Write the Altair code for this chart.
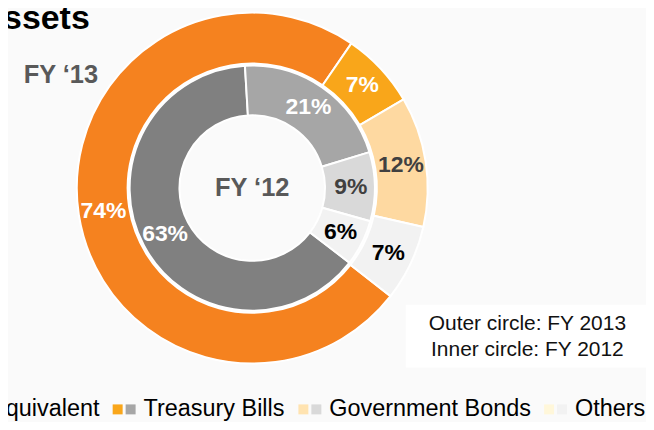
import math
import altair as alt
import pandas as pd

# ---------------- data ----------------
categories = ["Cash & Cash Equivalent", "Treasury Bills", "Government Bonds", "Others"]
fy13_values = [74, 7, 12, 7]          # outer circle
fy12_values = [63, 21, 9, 6]          # inner circle
fy13_labels = ["74%", "7%", "12%", "7%"]
fy12_labels = ["63%", "21%", "9%", "6%"]
title_text = "Assets"
outer_name = "FY \u201813"
inner_name = "FY \u201812"
note_lines = ["Outer circle: FY 2013", "Inner circle: FY 2012"]

# ---------------- styles ----------------
FONT = "Liberation Sans, Arial, Helvetica, sans-serif"
BG = "#fafafa"
outer_colors = ["#F5821F", "#F9A61A", "#FED9A1", "#F2F2F2"]
inner_colors = ["#808080", "#A6A6A6", "#D9D9D9", "#F2F2F2"]
outer_text_colors = ["#FFFFFF", "#FFFFFF", "#404040", "#000000"]
inner_text_colors = ["#FFFFFF", "#FFFFFF", "#404040", "#000000"]
legend_outer_colors = ["#F5821F", "#F9A61A", "#FFE3B0", "#FFF7DA"]
legend_inner_colors = ["#808080", "#A6A6A6", "#D9D9D9", "#F2F2F2"]

W, H = 640, 414
CX, CY = 245, 180
TWO_PI = 2 * math.pi
outer_start = math.radians(128)
inner_start = math.radians(127.5)

ring_df_outer = pd.DataFrame({"category": categories, "value": fy13_values,
                              "label": fy13_labels, "idx": range(4)})
ring_df_inner = pd.DataFrame({"category": categories, "value": fy12_values,
                              "label": fy12_labels, "idx": range(4)})


def ring(df, start, r_in, r_out, r_lab, fills, tcolors):
    base = alt.Chart(df).encode(
        theta=alt.Theta("value:Q", stack=True,
                        scale=alt.Scale(range=[start, start + TWO_PI])),
        order=alt.Order("idx:Q"),
        x=alt.value(CX), y=alt.value(CY),
    )
    arcs = base.mark_arc(innerRadius=r_in, outerRadius=r_out,
                         stroke="white", strokeWidth=2).encode(
        fill=alt.Fill("category:N", scale=alt.Scale(domain=categories, range=fills),
                      legend=None)
    )
    labels = base.mark_text(radius=r_lab, font=FONT, fontSize=23,
                            fontWeight="bold").encode(
        text="label:N",
        color=alt.Color("category:N",
                        scale=alt.Scale(domain=categories, range=tcolors),
                        legend=None),
    )
    return alt.layer(arcs, labels)


outer = ring(ring_df_outer, outer_start, 125, 176, 151, outer_colors, outer_text_colors)
inner = ring(ring_df_inner, inner_start, 73, 123, 99, inner_colors, inner_text_colors)

# ---------------- legend layout (computed from Arial widths) ----------------
AW = {"T": 611, "r": 333, "e": 556, "a": 556, "s": 500, "u": 556, "y": 500,
      " ": 278, "B": 667, "i": 222, "l": 222, "G": 778, "o": 556, "v": 500,
      "n": 556, "m": 833, "t": 278, "d": 556, "O": 778, "h": 556, "C": 722,
      "&": 667, "E": 667, "q": 556}
LEG_FS = 23.5


def tw(s, fs):
    return sum(AW.get(c, 556) for c in s) / 1000 * fs


SW, SGAP, TOFF, IGAP = 10, 3, 31, 13
starts = [0.0] * 4
starts[1] = 105
for i in range(1, 3):
    starts[i + 1] = starts[i] + TOFF + tw(categories[i], LEG_FS) + IGAP
starts[0] = starts[1] - (TOFF + tw(categories[0], LEG_FS) + IGAP)

sw_rows = []
for i, c in enumerate(categories):
    sw_rows.append({"key": c + " (FY13)", "x": starts[i], "x2": starts[i] + SW})
    sw_rows.append({"key": c + " (FY12)", "x": starts[i] + SW + SGAP,
                    "x2": starts[i] + 2 * SW + SGAP})
sw_df = pd.DataFrame(sw_rows)
sw_domain = [r["key"] for r in sw_rows]
sw_range = []
for i in range(4):
    sw_range += [legend_outer_colors[i], legend_inner_colors[i]]

leg_swatch = alt.Chart(sw_df).mark_rect().encode(
    x=alt.X("x:Q", scale=None, axis=None),
    x2="x2:Q",
    y=alt.value(397), y2=alt.value(407),
    fill=alt.Fill("key:N", scale=alt.Scale(domain=sw_domain, range=sw_range), legend=None),
)
lt_df = pd.DataFrame({"category": categories, "tx": [s + TOFF for s in starts]})
leg_text = alt.Chart(lt_df).mark_text(align="left", baseline="alphabetic", font=FONT,
                                      fontSize=LEG_FS, color="#000000").encode(
    x=alt.X("tx:Q", scale=None, axis=None), y=alt.value(409), text="category:N")

# ---------------- annotations ----------------
one = pd.DataFrame({"t": [title_text]})
title = alt.Chart(one).mark_text(align="right", baseline="alphabetic", font=FONT,
                                 fontSize=34, fontWeight="bold", color="#000000").encode(
    x=alt.value(82), y=alt.value(20), text="t:N")

fy13 = alt.Chart(pd.DataFrame({"t": [outer_name]})).mark_text(
    align="center", baseline="alphabetic", font=FONT, fontSize=25.5,
    fontWeight="bold", color="#595959").encode(x=alt.value(53), y=alt.value(75), text="t:N")
fy12 = alt.Chart(pd.DataFrame({"t": [inner_name]})).mark_text(
    align="center", baseline="alphabetic", font=FONT, fontSize=25.5,
    fontWeight="bold", color="#595959").encode(x=alt.value(CX), y=alt.value(188), text="t:N")

box = alt.Chart(pd.DataFrame({"a": [0]})).mark_rect(fill="white").encode(
    x=alt.value(399), x2=alt.value(640), y=alt.value(297), y2=alt.value(360))
note_df = pd.DataFrame({"t": note_lines, "i": [0, 1]})
note = alt.Chart(note_df).mark_text(align="center", baseline="alphabetic", font=FONT,
                                    fontSize=21, color="#111111").encode(
    x=alt.value(521),
    y=alt.Y("i:Q", scale=alt.Scale(domain=[0, 1], range=[322, 348]), axis=None),
    text="t:N")

chart = alt.layer(
    outer, inner, fy13, fy12, box, note, leg_swatch, leg_text, title
).resolve_scale(
    theta="independent", fill="independent", color="independent", y="independent"
).properties(
    width=W, height=H, padding=0, autosize="none", background=BG
).configure_view(strokeWidth=0)

chart.save("out.html", embed_options={"renderer": "svg", "actions": False})
